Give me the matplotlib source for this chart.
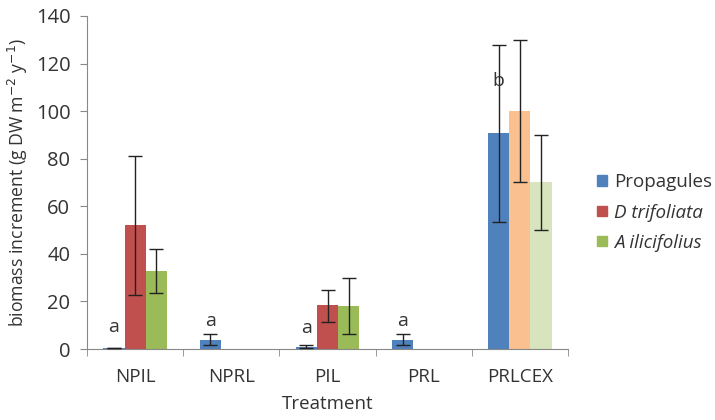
import numpy as np
import matplotlib
matplotlib.use("Agg")
import matplotlib.pyplot as plt

plt.rcParams['font.family'] = ['Open Sans', 'DejaVu Sans']

treatments = ["NPIL", "NPRL", "PIL", "PRL", "PRLCEX"]
series = ["Propagules", "D trifoliata", "A ilicifolius"]

propagules = [0.5, 4, 1, 4, 91]
propagules_lo = [0.5, 1.5, 0.5, 1.5, 53.5]
propagules_hi = [0.5, 6.5, 1.5, 6.5, 128]

dtrif = [52, 0, 18.5, 0, 100]
dtrif_lo = [22.5, 0, 11.5, 0, 70]
dtrif_hi = [81, 0, 25, 0, 130]

ailic = [33, 0, 18, 0, 70]
ailic_lo = [23.5, 0, 6.5, 0, 50]
ailic_hi = [42, 0, 30, 0, 90]

letters = ["a", "a", "a", "a", "b"]
letter_y = [5.5, 8, 5, 8, 109]

blue = "#4F81BD"
red = "#C0504D"
green = "#9BBB59"
# last group drawn in lighter shades
bar_colors = [
    [blue] * 5,
    [red] * 4 + ["#FAC090"],
    [green] * 4 + ["#D7E4BD"],
]

fig = plt.figure(figsize=(7.15, 4.2), dpi=100)
ax = fig.add_axes([0.1217, 0.169, 0.6727, 0.793])

x = np.arange(len(treatments))
w = 0.22
vals = [propagules, dtrif, ailic]
los = [propagules_lo, dtrif_lo, ailic_lo]
his = [propagules_hi, dtrif_hi, ailic_hi]

for i in range(3):
    xs = x + (i - 1) * w
    ax.bar(xs, vals[i], width=w, color=bar_colors[i], label=series[i], zorder=2)
    for j in range(len(treatments)):
        if vals[i][j] == 0:
            continue
        yerr = [[vals[i][j] - los[i][j]], [his[i][j] - vals[i][j]]]
        ax.errorbar(xs[j], vals[i][j], yerr=yerr, fmt="none", ecolor="#222222",
                    elinewidth=1, capsize=5, capthick=1, zorder=3)

for j in range(len(treatments)):
    ax.text(x[j] - w, letter_y[j], letters[j], ha="center", va="bottom",
            fontsize=14, color="#333333")

ax.set_xlim(-0.5, 4.5)
ax.set_ylim(0, 140)
ax.set_yticks(np.arange(0, 141, 20))
ax.set_xticks(x)
ax.set_xticklabels(treatments)
ax.set_xticks(np.arange(-0.5, 4.6, 1), minor=True)
ax.tick_params(axis="x", which="major", length=0, pad=14, labelsize=13.5, colors="#333333")
ax.tick_params(axis="x", which="minor", length=5, color="#888888")
ax.tick_params(axis="y", length=5, color="#888888", labelsize=14.5, labelcolor="#333333", pad=7)

for s in ["top", "right"]:
    ax.spines[s].set_visible(False)
for s in ["left", "bottom"]:
    ax.spines[s].set_color("#888888")

ax.set_ylabel("biomass increment (g DW m$^{-2}$ y$^{-1}$)", fontsize=12.7, color="#333333")
ax.set_xlabel("Treatment", fontsize=13.5, color="#333333", labelpad=6)

handles = [plt.Rectangle((0, 0), 1, 1, color=c) for c in [blue, red, green]]
leg = ax.legend(handles, series, loc="upper left", bbox_to_anchor=(1.045, 0.55),
                frameon=False, fontsize=13.5, handlelength=0.5, handleheight=0.5,
                handletextpad=0.4, labelspacing=0.65, borderaxespad=0)
for t in leg.get_texts()[1:]:
    t.set_style("italic")
for t in leg.get_texts():
    t.set_color("#333333")

fig.savefig("out.png", dpi=100)
